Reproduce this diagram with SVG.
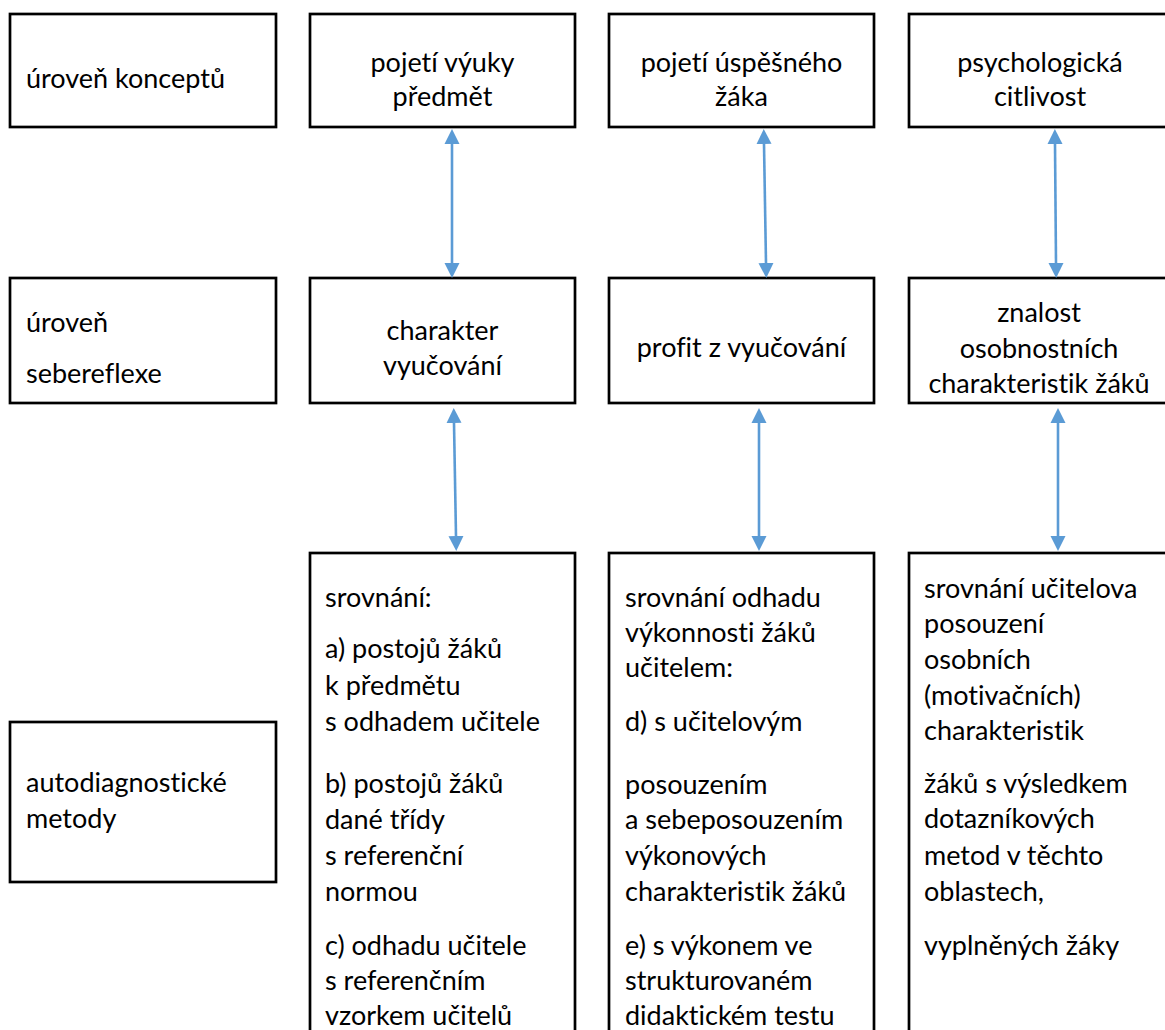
<svg xmlns="http://www.w3.org/2000/svg" width="1165" height="1030" viewBox="0 0 1165 1030">
<style>
.box{fill:#fff;stroke:#000;stroke-width:2.7}
text{font-family:Lato,"Open Sans",sans-serif;font-size:27px;fill:#000;font-variant-ligatures:none;font-feature-settings:"liga" 0,"clig" 0}
.c{text-anchor:middle}
.conn{stroke:#5B9BD5;stroke-width:2.6;fill:none;marker-start:url(#ah);marker-end:url(#ah)}
</style>
<defs>
<marker id="ah" markerUnits="userSpaceOnUse" markerWidth="16" markerHeight="16" viewBox="0 0 16 16" refX="0" refY="8" orient="auto-start-reverse">
<path d="M0,0.5 L15,8 L0,15.5 z" fill="#5B9BD5"/>
</marker>
</defs>
<rect width="1165" height="1030" fill="#fff"/>
<g id="n-uroven-konceptu"><rect class="box" x="10" y="14" width="266" height="113"/><text x="26" y="88">úroveň konceptů</text></g>
<g id="n-pojeti-vyuky"><rect class="box" x="310" y="14" width="265" height="113"/><text class="c" x="442.5" y="72">pojetí výuky</text><text class="c" x="442.5" y="106">předmět</text></g>
<g id="n-pojeti-zaka"><rect class="box" x="609" y="14" width="265" height="113"/><text class="c" x="741.5" y="72">pojetí úspěšného</text><text class="c" x="741.5" y="106">žáka</text></g>
<g id="n-psych-citlivost"><rect class="box" x="909" y="14" width="265" height="113"/><text class="c" x="1040" y="72">psychologická</text><text class="c" x="1040" y="106">citlivost</text></g>

<g id="n-uroven-sebereflexe"><rect class="box" x="10" y="278" width="266" height="125"/><text x="26" y="332">úroveň</text><text x="26" y="383">sebereflexe</text></g>
<g id="n-charakter"><rect class="box" x="310" y="278" width="265" height="125"/><text class="c" x="442.5" y="340">charakter</text><text class="c" x="442.5" y="375">vyučování</text></g>
<g id="n-profit"><rect class="box" x="609" y="278" width="265" height="125"/><text class="c" x="741.5" y="357">profit z vyučování</text></g>
<g id="n-znalost"><rect class="box" x="909" y="278" width="265" height="125"/><text class="c" x="1039" y="322">znalost</text><text class="c" x="1039" y="358">osobnostních</text><text class="c" x="1039" y="393">charakteristik žáků</text></g>

<g id="n-autodiag"><rect class="box" x="10" y="722" width="266" height="160"/><text x="26" y="792">autodiagnostické</text><text x="26" y="828">metody</text></g>
<g id="n-srovnani-b"><rect class="box" x="310" y="553" width="265" height="490"/>
<text x="325" y="607">srovnání:</text>
<text x="325" y="658">a) postojů žáků</text>
<text x="325" y="695">k předmětu</text>
<text x="325" y="731">s odhadem učitele</text>
<text x="325" y="793">b) postojů žáků</text>
<text x="325" y="829">dané třídy</text>
<text x="325" y="865">s referenční</text>
<text x="325" y="901">normou</text>
<text x="325" y="955">c) odhadu učitele</text>
<text x="325" y="990">s referenčním</text>
<text x="325" y="1025">vzorkem učitelů</text>
</g>
<g id="n-srovnani-c"><rect class="box" x="609" y="553" width="265" height="490"/>
<text x="625" y="607">srovnání odhadu</text>
<text x="625" y="642">výkonnosti žáků</text>
<text x="625" y="677">učitelem:</text>
<text x="625" y="731">d) s učitelovým</text>
<text x="625" y="794">posouzením</text>
<text x="625" y="829">a sebeposouzením</text>
<text x="625" y="865">výkonových</text>
<text x="625" y="901">charakteristik žáků</text>
<text x="625" y="955">e) s výkonem ve</text>
<text x="625" y="990">strukturovaném</text>
<text x="625" y="1025">didaktickém testu</text>
</g>
<g id="n-srovnani-d"><rect class="box" x="909" y="553" width="265" height="490"/>
<text x="924" y="598">srovnání učitelova</text>
<text x="924" y="633">posouzení</text>
<text x="924" y="669">osobních</text>
<text x="924" y="705">(motivačních)</text>
<text x="924" y="740">charakteristik</text>
<text x="924" y="793">žáků s výsledkem</text>
<text x="924" y="828">dotazníkových</text>
<text x="924" y="865">metod v těchto</text>
<text x="924" y="901">oblastech,</text>
<text x="924" y="955">vyplněných žáky</text>
</g>

<g id="connectors">
<line class="conn" x1="452" y1="144" x2="452" y2="263"/>
<line class="conn" x1="764" y1="144" x2="766" y2="263"/>
<line class="conn" x1="1055" y1="144" x2="1056" y2="263"/>
<line class="conn" x1="454" y1="423" x2="456" y2="536"/>
<line class="conn" x1="759" y1="423" x2="759" y2="536"/>
<line class="conn" x1="1058" y1="423" x2="1058" y2="536"/>
</g>
</svg>
